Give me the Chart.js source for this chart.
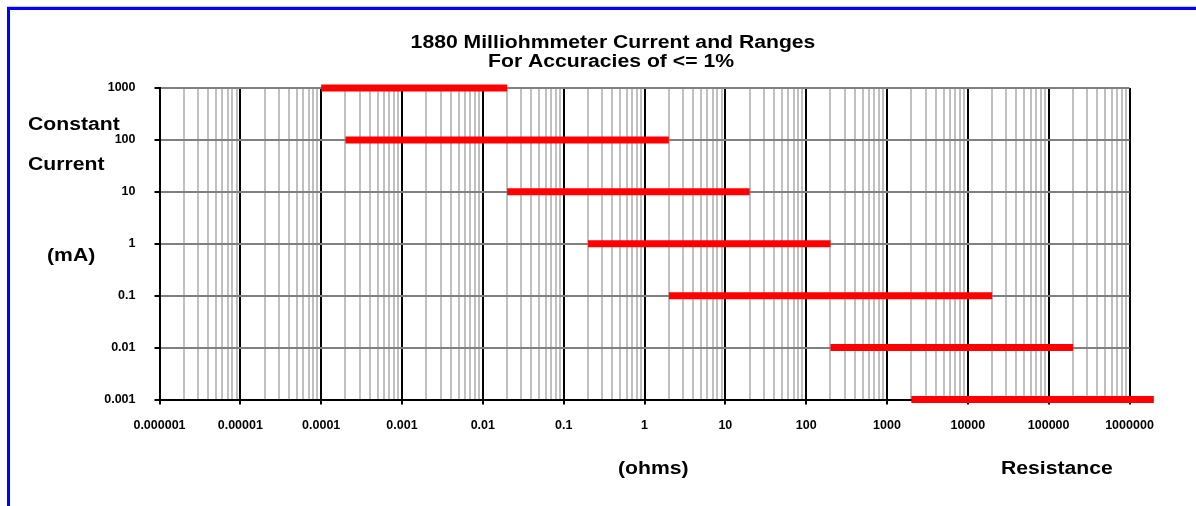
<!DOCTYPE html>
<html>
<head>
<meta charset="utf-8">
<script src="https://cdn.jsdelivr.net/npm/chart.js@4"></script>
<style>
  html, body { margin: 0; padding: 0; background: #ffffff; }
  #wrap { position: relative; width: 1196px; height: 506px; }
</style>
</head>
<body>
<div id="wrap"><canvas id="c"></canvas></div>
<script>
// ---- data ----
const currents_mA     = [1000, 100, 10, 1, 0.1, 0.01, 0.001];
const rangeLow_ohms   = [0.0001, 0.0002, 0.02, 0.2, 2, 200, 2000];
const rangeHigh_ohms  = [0.02, 2, 20, 200, 20000, 200000, 2000000];

const xTickValues = [0.000001, 0.00001, 0.0001, 0.001, 0.01, 0.1, 1, 10, 100, 1000, 10000, 100000, 1000000];
const xTickLabels = ['0.000001', '0.00001', '0.0001', '0.001', '0.01', '0.1', '1', '10', '100', '1000', '10000', '100000', '1000000'];
const yTickValues = [0.001, 0.01, 0.1, 1, 10, 100, 1000];
const yTickLabels = ['0.001', '0.01', '0.1', '1', '10', '100', '1000'];
const minorMultipliers = [2, 3, 4, 5, 6, 7, 8, 9];

const titleLines = ['1880 Milliohmmeter Current and Ranges', 'For Accuracies of <= 1%'];
const yAxisTitleParts = ['Constant', 'Current', '(mA)'];
const xAxisTitleParts = ['(ohms)', 'Resistance'];

// ---- helpers ----
const FONT = "'Liberation Sans', Arial, Helvetica, sans-serif";
function isDecade(v) { const l = Math.log10(v); return Math.abs(l - Math.round(l)) < 1e-9; }
function labelFor(v, vals, labels) {
  for (let i = 0; i < vals.length; i++) {
    if (Math.abs(Math.log10(v) - Math.log10(vals[i])) < 1e-9) return labels[i];
  }
  return '';
}

const datasets = currents_mA.map((c, i) => ({
  label: c + ' mA',
  data: [{ x: rangeLow_ohms[i], y: c }, { x: rangeHigh_ohms[i], y: c }],
  showLine: true,
  borderColor: '#ff0000',
  backgroundColor: '#ff0000',
  borderWidth: 7,
  borderCapStyle: 'butt',
  pointRadius: 0,
  pointHoverRadius: 0,
  clip: false
}));

const frameAndText = {
  id: 'frameAndText',
  beforeDraw(chart) {
    const ctx = chart.ctx;
    ctx.save();
    ctx.fillStyle = '#ffffff';
    ctx.fillRect(0, 0, chart.width, chart.height);
    ctx.fillStyle = '#c8c8ff';
    ctx.fillRect(7, 6, chart.width - 7, 1);
    ctx.fillStyle = '#0000ff';
    ctx.fillRect(7, 7, chart.width - 7, 3);
    ctx.fillRect(7, 7, 3, chart.height - 7);
    ctx.restore();
  },
  afterDraw(chart) {
    const ctx = chart.ctx;
    function stretched(text, x, y, size, sx, align) {
      ctx.save();
      ctx.font = 'bold ' + size + 'px ' + FONT;
      ctx.fillStyle = '#000000';
      ctx.textBaseline = 'alphabetic';
      ctx.textAlign = align;
      ctx.translate(x, y);
      ctx.scale(sx, 1);
      ctx.fillText(text, 0, 0);
      ctx.restore();
    }
    const sx = 1.21, fs = 17.5;
    stretched(titleLines[0], 613, 48, fs, sx, 'center');
    stretched(titleLines[1], 611, 67, fs, sx, 'center');
    stretched(yAxisTitleParts[0], 28, 129.5, fs, sx, 'left');
    stretched(yAxisTitleParts[1], 28, 169.5, fs, sx, 'left');
    stretched(yAxisTitleParts[2], 47, 260.5, fs, sx, 'left');
    stretched(xAxisTitleParts[0], 618, 473.5, fs, sx, 'left');
    stretched(xAxisTitleParts[1], 1001, 473.5, fs, sx, 'left');
  }
};

new Chart(document.getElementById('c'), {
  type: 'scatter',
  data: { datasets },
  options: {
    responsive: true,
    maintainAspectRatio: false,
    animation: false,
    events: [],
    layout: { padding: { left: 0, top: 88, right: 66.5, bottom: 0 } },
    plugins: { legend: { display: false }, tooltip: { enabled: false }, title: { display: false } },
    scales: {
      x: {
        type: 'logarithmic',
        min: xTickValues[0],
        max: xTickValues[xTickValues.length - 1],
        afterFit(scale) { scale.height = 106.5; },
        afterBuildTicks(scale) {
          const t = [];
          xTickValues.forEach((d, i) => {
            t.push({ value: d, major: true });
            if (i < xTickValues.length - 1) minorMultipliers.forEach(m => t.push({ value: d * m, major: false }));
          });
          scale.ticks = t;
        },
        ticks: {
          autoSkip: false,
          maxRotation: 0,
          minRotation: 0,
          padding: 14,
          color: '#000000',
          font: { family: FONT, size: 12.5, weight: 'bold' },
          callback: (v) => isDecade(v) ? labelFor(v, xTickValues, xTickLabels) : ''
        },
        grid: {
          color: (ctx) => (ctx.tick && isDecade(ctx.tick.value)) ? '#000000' : '#c0c0c0',
          lineWidth: 2,
          tickLength: 5,
          tickWidth: 2,
          tickColor: (ctx) => (ctx.tick && isDecade(ctx.tick.value)) ? '#000000' : 'rgba(0,0,0,0)'
        },
        border: { display: true, color: '#000000', width: 2 }
      },
      y: {
        type: 'logarithmic',
        min: yTickValues[0],
        max: yTickValues[yTickValues.length - 1],
        afterFit(scale) { scale.width = 159.5; },
        afterBuildTicks(scale) {
          scale.ticks = yTickValues.map(v => ({ value: v, major: true }));
        },
        ticks: {
          autoSkip: false,
          padding: 19,
          color: '#000000',
          font: { family: FONT, size: 12.5, weight: 'bold' },
          callback: (v) => labelFor(v, yTickValues, yTickLabels)
        },
        grid: {
          color: (ctx) => (ctx.tick && ctx.tick.value === yTickValues[0]) ? '#000000' : '#808080',
          lineWidth: 2,
          tickLength: 5,
          tickWidth: 2,
          tickColor: '#000000'
        },
        border: { display: true, color: '#000000', width: 2 }
      }
    }
  },
  plugins: [frameAndText]
});
</script>
</body>
</html>
